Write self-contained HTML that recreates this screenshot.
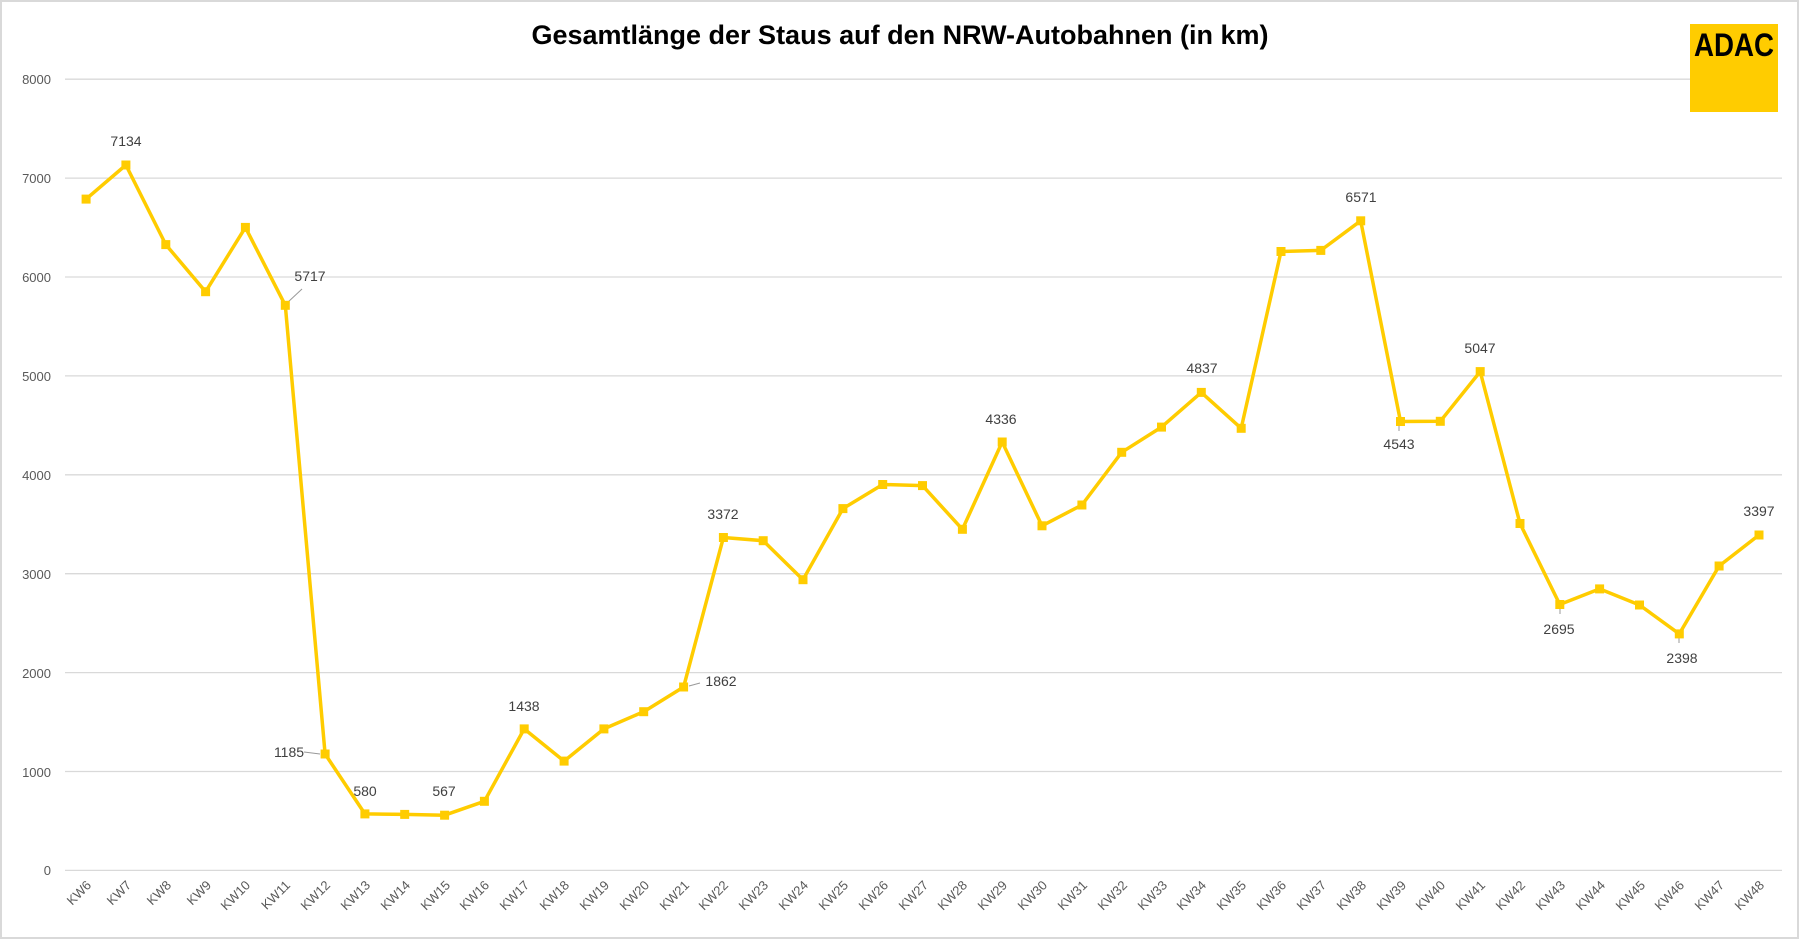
<!DOCTYPE html>
<html><head><meta charset="utf-8"><style>
html,body{margin:0;padding:0;background:#fff}
svg{display:block}
.t{font-family:"Liberation Sans",sans-serif}
</style></head><body>
<svg width="1800" height="940" viewBox="0 0 1800 940" xmlns="http://www.w3.org/2000/svg" class="t">
<rect x="1" y="1" width="1797" height="937" fill="#fff" stroke="#d9d9d9" stroke-width="2"/>
<text x="900" y="44" text-anchor="middle" font-size="27" font-weight="bold" fill="#000">Gesamtlänge der Staus auf den NRW-Autobahnen (in km)</text>
<g stroke="#d9d9d9" stroke-width="1.3">
<line x1="65" x2="1690" y1="79.2" y2="79.2"/><line x1="65" x2="1782" y1="178.1" y2="178.1"/>
<line x1="65" x2="1782" y1="277" y2="277"/><line x1="65" x2="1782" y1="375.9" y2="375.9"/>
<line x1="65" x2="1782" y1="474.8" y2="474.8"/><line x1="65" x2="1782" y1="573.7" y2="573.7"/>
<line x1="65" x2="1782" y1="672.6" y2="672.6"/><line x1="65" x2="1782" y1="771.5" y2="771.5"/>
<line x1="65" x2="1782" y1="870.4" y2="870.4"/>
</g>
<rect x="1690" y="24" width="88" height="88" fill="#FFCC00"/>
<text x="1734" y="56" text-anchor="middle" font-size="32" font-weight="bold" fill="#000" textLength="80" lengthAdjust="spacingAndGlyphs">ADAC</text>
<g font-size="13" fill="#595959" text-anchor="end">
<text x="51" y="84">8000</text><text x="51" y="183">7000</text><text x="51" y="282">6000</text>
<text x="51" y="381">5000</text><text x="51" y="480">4000</text><text x="51" y="579">3000</text>
<text x="51" y="678">2000</text><text x="51" y="777">1000</text><text x="51" y="875">0</text>
</g>
<g stroke="#999" stroke-width="1">
<line x1="287" y1="303" x2="302" y2="289"/>
<line x1="304" y1="752" x2="320" y2="754"/>
<line x1="689" y1="686" x2="700" y2="683"/>
<line x1="1399" y1="424" x2="1399" y2="431"/>
<line x1="1560" y1="607" x2="1560" y2="614"/>
<line x1="1679" y1="637" x2="1679" y2="643"/>
</g>
<polyline fill="none" stroke="#FFCC00" stroke-width="3.5" stroke-linejoin="round" points="86.1,199.1 125.9,165 165.8,244.6 205.6,291.7 245.4,227.4 285.3,305.3 325.1,754 364.9,813.9 404.7,814.4 444.6,815.2 484.4,801.3 524.2,728.9 564.1,761.1 603.9,728.9 643.7,711.7 683.6,687 723.4,537.5 763.2,540.7 803,579.7 842.9,508.6 882.7,484.5 922.5,485.6 962.4,529.3 1002.2,442 1042,525.8 1081.9,505 1121.7,452.3 1161.5,427.1 1201.3,392.4 1241.2,428.3 1281,251.5 1320.8,250.4 1360.7,220.8 1400.5,421.5 1440.3,421.3 1480.2,371.6 1520,523.5 1559.8,604.5 1599.6,588.9 1639.5,605 1679.3,633.9 1719.1,566 1759,535"/>
<g fill="#FFCC00">
<rect x="81.6" y="194.6" width="9" height="9"/><rect x="121.4" y="160.5" width="9" height="9"/><rect x="161.3" y="240.1" width="9" height="9"/><rect x="201.1" y="287.2" width="9" height="9"/><rect x="240.9" y="222.9" width="9" height="9"/><rect x="280.8" y="300.8" width="9" height="9"/><rect x="320.6" y="749.5" width="9" height="9"/><rect x="360.4" y="809.4" width="9" height="9"/><rect x="400.2" y="809.9" width="9" height="9"/><rect x="440.1" y="810.7" width="9" height="9"/><rect x="479.9" y="796.8" width="9" height="9"/><rect x="519.7" y="724.4" width="9" height="9"/><rect x="559.6" y="756.6" width="9" height="9"/><rect x="599.4" y="724.4" width="9" height="9"/><rect x="639.2" y="707.2" width="9" height="9"/><rect x="679.1" y="682.5" width="9" height="9"/><rect x="718.9" y="533" width="9" height="9"/><rect x="758.7" y="536.2" width="9" height="9"/><rect x="798.5" y="575.2" width="9" height="9"/><rect x="838.4" y="504.1" width="9" height="9"/><rect x="878.2" y="480" width="9" height="9"/><rect x="918" y="481.1" width="9" height="9"/><rect x="957.9" y="524.8" width="9" height="9"/><rect x="997.7" y="437.5" width="9" height="9"/><rect x="1037.5" y="521.3" width="9" height="9"/><rect x="1077.4" y="500.5" width="9" height="9"/><rect x="1117.2" y="447.8" width="9" height="9"/><rect x="1157" y="422.6" width="9" height="9"/><rect x="1196.8" y="387.9" width="9" height="9"/><rect x="1236.7" y="423.8" width="9" height="9"/><rect x="1276.5" y="247" width="9" height="9"/><rect x="1316.3" y="245.9" width="9" height="9"/><rect x="1356.2" y="216.3" width="9" height="9"/><rect x="1396" y="417" width="9" height="9"/><rect x="1435.8" y="416.8" width="9" height="9"/><rect x="1475.7" y="367.1" width="9" height="9"/><rect x="1515.5" y="519" width="9" height="9"/><rect x="1555.3" y="600" width="9" height="9"/><rect x="1595.1" y="584.4" width="9" height="9"/><rect x="1635" y="600.5" width="9" height="9"/><rect x="1674.8" y="629.4" width="9" height="9"/><rect x="1714.6" y="561.5" width="9" height="9"/><rect x="1754.5" y="530.5" width="9" height="9"/>
</g>
<g font-size="14" fill="#404040" text-anchor="middle">
<text x="126" y="146">7134</text><text x="310" y="281">5717</text>
<text x="289" y="757">1185</text><text x="365" y="796">580</text><text x="444" y="796">567</text>
<text x="524" y="711">1438</text><text x="721" y="686">1862</text><text x="723" y="519">3372</text>
<text x="1001" y="424">4336</text><text x="1202" y="373">4837</text><text x="1361" y="202">6571</text>
<text x="1399" y="449">4543</text><text x="1480" y="353">5047</text><text x="1559" y="634">2695</text>
<text x="1682" y="663">2398</text><text x="1759" y="516">3397</text>
</g>
<g font-size="13" fill="#595959" text-anchor="end">
<text transform="translate(92,886) rotate(-45)">KW6</text><text transform="translate(132,886) rotate(-45)">KW7</text><text transform="translate(172,886) rotate(-45)">KW8</text><text transform="translate(212,886) rotate(-45)">KW9</text><text transform="translate(251,886) rotate(-45)">KW10</text><text transform="translate(291,886) rotate(-45)">KW11</text><text transform="translate(331,886) rotate(-45)">KW12</text><text transform="translate(371,886) rotate(-45)">KW13</text><text transform="translate(411,886) rotate(-45)">KW14</text><text transform="translate(451,886) rotate(-45)">KW15</text><text transform="translate(490,886) rotate(-45)">KW16</text><text transform="translate(530,886) rotate(-45)">KW17</text><text transform="translate(570,886) rotate(-45)">KW18</text><text transform="translate(610,886) rotate(-45)">KW19</text><text transform="translate(650,886) rotate(-45)">KW20</text><text transform="translate(690,886) rotate(-45)">KW21</text><text transform="translate(729,886) rotate(-45)">KW22</text><text transform="translate(769,886) rotate(-45)">KW23</text><text transform="translate(809,886) rotate(-45)">KW24</text><text transform="translate(849,886) rotate(-45)">KW25</text><text transform="translate(889,886) rotate(-45)">KW26</text><text transform="translate(929,886) rotate(-45)">KW27</text><text transform="translate(968,886) rotate(-45)">KW28</text><text transform="translate(1008,886) rotate(-45)">KW29</text><text transform="translate(1048,886) rotate(-45)">KW30</text><text transform="translate(1088,886) rotate(-45)">KW31</text><text transform="translate(1128,886) rotate(-45)">KW32</text><text transform="translate(1168,886) rotate(-45)">KW33</text><text transform="translate(1207,886) rotate(-45)">KW34</text><text transform="translate(1247,886) rotate(-45)">KW35</text><text transform="translate(1287,886) rotate(-45)">KW36</text><text transform="translate(1327,886) rotate(-45)">KW37</text><text transform="translate(1367,886) rotate(-45)">KW38</text><text transform="translate(1407,886) rotate(-45)">KW39</text><text transform="translate(1446,886) rotate(-45)">KW40</text><text transform="translate(1486,886) rotate(-45)">KW41</text><text transform="translate(1526,886) rotate(-45)">KW42</text><text transform="translate(1566,886) rotate(-45)">KW43</text><text transform="translate(1606,886) rotate(-45)">KW44</text><text transform="translate(1646,886) rotate(-45)">KW45</text><text transform="translate(1685,886) rotate(-45)">KW46</text><text transform="translate(1725,886) rotate(-45)">KW47</text><text transform="translate(1765,886) rotate(-45)">KW48</text>
</g>
</svg>
</body></html>
